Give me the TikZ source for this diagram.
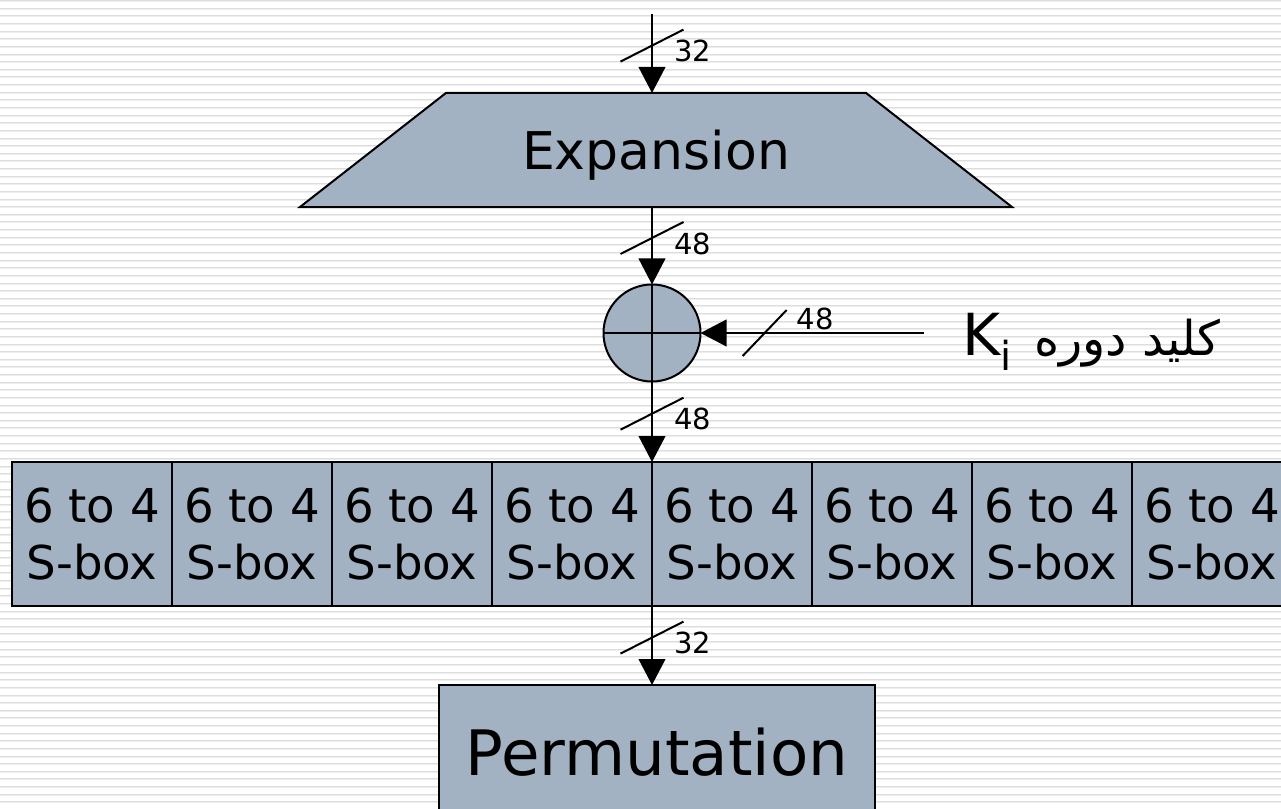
\documentclass[tikz,border=0pt]{standalone}
\usepackage{fontspec}
\setmainfont{DejaVu Sans}
\newfontfamily\arabicfont[Script=Arabic]{DejaVu Sans}
\TeXXeTstate=1
\usepackage{tikz}
\usetikzlibrary{arrows.meta, shapes.geometric, calc}
\definecolor{desfill}{RGB}{162,178,194}
\definecolor{stripedark}{RGB}{221,221,221}
\definecolor{stripelight}{RGB}{238,238,238}
% slash mark with bit width on a vertical line
\newcommand{\buswidth}[2]{%
  \draw[bus] ($(#1)+(-31.5,16)$) -- ($(#1)+(31.5,-16)$);
  \node[buslabel] at ($(#1)+(22,16)$) {#2};}

\begin{document}
\begin{tikzpicture}[x=0.75pt, y=-0.75pt,
  desbox/.style={draw, line width=1.5pt, fill=desfill, inner sep=0pt, outer sep=0pt},
  sbox/.style={desbox, minimum width=120pt, minimum height=108pt, align=center,
               font=\fontsize{35}{42.75}\selectfont},
  arrow/.style={-{Triangle[length=19.5pt, width=20pt]}, line width=1.5pt},
  bus/.style={line width=1.5pt},
  buslabel/.style={font=\fontsize{21.75}{24}\selectfont, inner sep=0pt, anchor=base west}
]
\useasboundingbox (0,0) rectangle (1281,809);
\clip (0,0) rectangle (1281,809);
% striped background
\fill[white] (0,0) rectangle (1281,809);
\foreach \k in {0,...,106} {
  \draw[stripedark, line width=0.75pt] (0,{\k*7.63+0.7}) -- (1281,{\k*7.63+0.7});
  \draw[stripelight, line width=0.75pt] (0,{\k*7.63+1.7}) -- (1281,{\k*7.63+1.7});
}

\node[desbox, trapezium, trapezium angle=38, trapezium stretches body=true,
      inner ysep=27.94pt, minimum width=534pt, minimum height=85.5pt, text depth=0pt,
      font=\fontsize{39}{47}\selectfont] (exp) at (656,150) {Expansion};
\node[desbox, circle, minimum size=72.75pt] (xor) at (652,333) {};
\draw[line width=1.5pt] (xor.north) -- (xor.south);
\draw[line width=1.5pt] (xor.west) -- (xor.east);
\foreach \i in {1,...,8}
  \node[sbox] (sb\i) at ({160*\i-68},534) {6 to 4\\S-box};
\node[desbox, minimum width=327pt, minimum height=100.5pt, text depth=0pt,
      font=\fontsize{47}{56}\selectfont] (perm) at (657,752) {Permutation};

\coordinate (in) at (652,14);
\coordinate (keyin) at (924,333);
\node[anchor=base west, inner sep=0pt, font=\fontsize{43.5}{52}\selectfont] (keyname) at (962,355)
  {K\raisebox{-11.25pt}{\fontsize{30}{36}\selectfont i}\hspace{17pt}{\arabicfont\fontsize{36}{44}\selectfont\beginR کلید دوره\endR}};

\draw[arrow] (in) -- (in |- exp.north) coordinate[pos=0.4] (w1);
\draw[arrow] (xor |- exp.south) -- (xor.north) coordinate[pos=0.4] (w2);
\draw[arrow] (xor.south) -- (sb4.north east) coordinate[pos=0.4] (w3);
\draw[arrow] (sb4.south east) -- (sb4.south east |- perm.north) coordinate[pos=0.4] (w4);
\draw[arrow] (keyin) -- (xor.east) coordinate[pos=0.713] (wk);

\buswidth{w1}{32}
\buswidth{w2}{48}
\buswidth{w3}{48}
\buswidth{w4}{32}
\draw[bus] ($(wk)+(-22,23)$) -- ($(wk)+(22,-23)$);
\node[buslabel] at ($(wk)+(32,-4)$) {48};
\end{tikzpicture}
\end{document}
